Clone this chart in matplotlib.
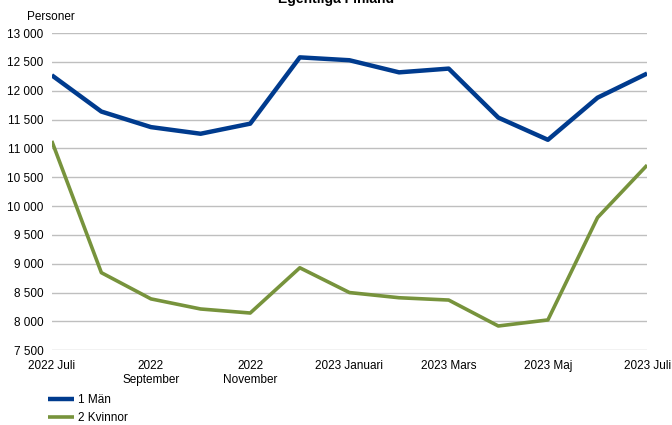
import numpy as np
import matplotlib.pyplot as plt
from matplotlib.ticker import FuncFormatter

plt.rcParams['font.family'] = ['Liberation Sans', 'DejaVu Sans']

# Data (monthly, 2022 Juli - 2023 Juli)
months = list(range(13))
man = [12270, 11640, 11370, 11255, 11430, 12580, 12530, 12320, 12385,
       11535, 11150, 11880, 12300]
kvinnor = [11130, 8845, 8390, 8215, 8145, 8930, 8500, 8410, 8370,
           7920, 8025, 9800, 10710]
tick_pos = [0, 2, 4, 6, 8, 10, 12]
tick_labels = ['2022 Juli', '2022\nSeptember', '2022\nNovember', '2023 Januari',
               '2023 Mars', '2023 Maj', '2023 Juli']

fig = plt.figure(figsize=(6.72, 4.25), dpi=100)
ax = fig.add_axes([0.077, 0.176, 0.886, 0.746])

ax.plot(months, man, color='#003B8E', lw=3.2, label='1 Män', solid_capstyle='butt')
ax.plot(months, kvinnor, color='#77933C', lw=2.6, label='2 Kvinnor', solid_capstyle='butt')

ax.set_xlim(0, 12)
ax.set_ylim(7500, 13000)
ax.set_yticks(np.arange(7500, 13001, 500))
ax.yaxis.set_major_formatter(FuncFormatter(lambda v, p: f'{int(v):,}'.replace(',', ' ')))
ax.set_xticks(tick_pos)
ax.set_xticklabels(tick_labels)
ax.tick_params(axis='both', length=0, labelsize=8.5)
ax.tick_params(axis='y', pad=6)
ax.tick_params(axis='x', pad=7)
ax.grid(axis='y', color='#BFBFBF', lw=1)
ax.set_axisbelow(True)
for s in ax.spines.values():
    s.set_visible(False)

fig.text(0.040, 0.952, 'Personer', fontsize=8.5)
fig.text(0.5, 1 - 3 / 425, 'Egentliga Finland', fontsize=10, fontweight='bold',
         ha='center', va='baseline')

ax.legend(loc='lower left', bbox_to_anchor=(0.071, 0.0), bbox_transform=fig.transFigure,
          frameon=False, fontsize=8.5, handlelength=2.2, handletextpad=0.35,
          labelspacing=0.55, borderaxespad=0.0, borderpad=0.05)

fig.savefig('out.png', dpi=100)
